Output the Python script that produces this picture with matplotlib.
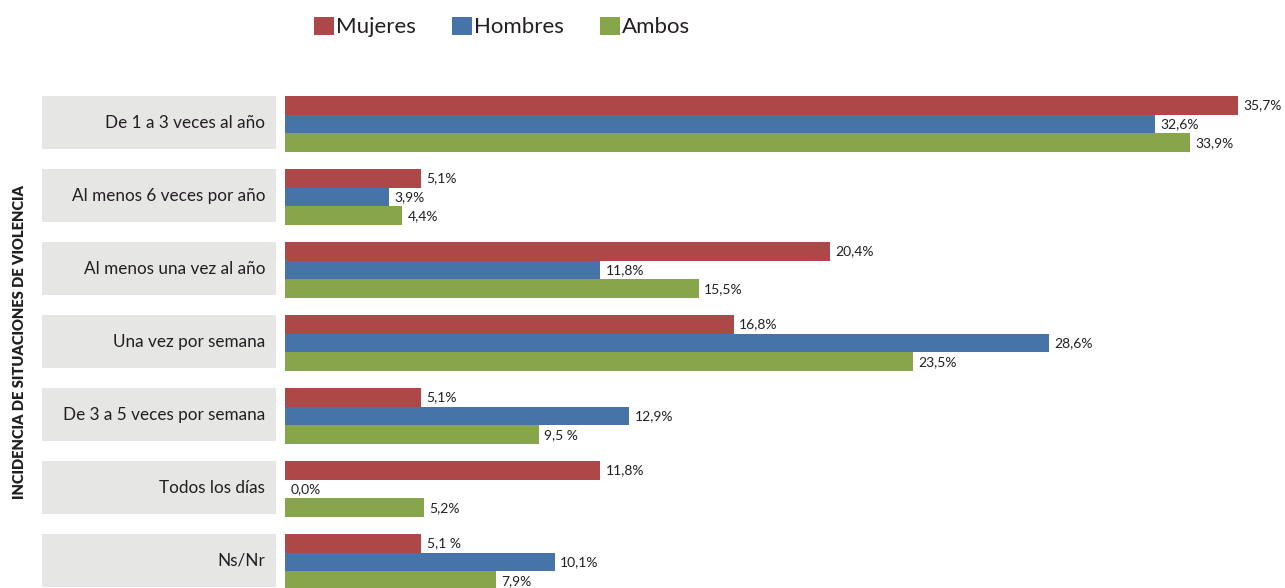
import matplotlib
matplotlib.use("Agg")
import matplotlib.pyplot as plt
from matplotlib.patches import Rectangle
import matplotlib.transforms as mtransforms

categories = ["De 1 a 3 veces al año", "Al menos 6 veces por año", "Al menos una vez al año",
              "Una vez por semana", "De 3 a 5 veces por semana", "Todos los días", "Ns/Nr"]
series_names = ["Mujeres", "Hombres", "Ambos"]
mujeres = [35.7, 5.1, 20.4, 16.8, 5.1, 11.8, 5.1]
hombres = [32.6, 3.9, 11.8, 28.6, 12.9, 0.0, 10.1]
ambos = [33.9, 4.4, 15.5, 23.5, 9.5, 5.2, 7.9]
mujeres_labels = ["35,7%", "5,1%", "20,4%", "16,8%", "5,1%", "11,8%", "5,1 %"]
hombres_labels = ["32,6%", "3,9%", "11,8%", "28,6%", "12,9%", "0,0%", "10,1%"]
ambos_labels = ["33,9%", "4,4%", "15,5%", "23,5%", "9,5 %", "5,2%", "7,9%"]
colors = ["#AE4747", "#4673A8", "#87A54A"]
y_title = "INCIDENCIA DE SITUACIONES DE VIOLENCIA"

W, H = 1285, 588
fig = plt.figure(figsize=(W / 100, H / 100), dpi=100)
ax = fig.add_axes([285 / W, 0, 1000 / W, 1 - 85 / H])

n = len(categories)
ys = list(range(n))
bh = 0.256
data = [mujeres, hombres, ambos]
labels = [mujeres_labels, hombres_labels, ambos_labels]
offsets = [-bh, 0, bh]
handles = []
for vals, labs, off, col, name in zip(data, labels, offsets, colors, series_names):
    pos = [y + off for y in ys]
    b = ax.barh(pos, vals, height=bh, color=col, label=name, linewidth=0)
    handles.append(b)
    for p, v, t in zip(pos, vals, labs):
        ax.text(v + 0.2, p, t, va="center", ha="left", fontsize=10,
                family=["Lato", "DejaVu Sans"], color="#231f20")

ax.set_xlim(0, 37.45)
ax.set_ylim(6.356, -0.534)
ax.axis("off")

trans = mtransforms.blended_transform_factory(ax.transAxes, ax.transData)
for y, cat in zip(ys, categories):
    rect = Rectangle(((42 - 285) / 1000, y - 0.384), (276 - 42) / 1000, 0.726,
                     transform=trans, facecolor="#e6e6e5", edgecolor="none", clip_on=False)
    ax.add_patch(rect)
    ax.text((265 - 285) / 1000, y - 0.02, cat, transform=trans, ha="right", va="center",
            fontsize=12.3, family=["Lato", "DejaVu Sans"], color="#231f20")

fig.text(20 / W, 1 - 342 / H, y_title, rotation=90, ha="center", va="center",
         fontsize=10.6, fontweight="heavy", family=["Lato", "DejaVu Sans"],
         color="#231f20")

leg = fig.legend(handles=handles, loc="center", bbox_to_anchor=(502 / W, 1 - 27 / H), ncol=3,
                 frameon=False, handlelength=0.9, handleheight=0.9, handletextpad=0.12,
                 columnspacing=1.6, prop={"family": ["Lato", "DejaVu Sans"], "size": 16})
for t in leg.get_texts():
    t.set_color("#231f20")

fig.savefig("out.png", dpi=100)
